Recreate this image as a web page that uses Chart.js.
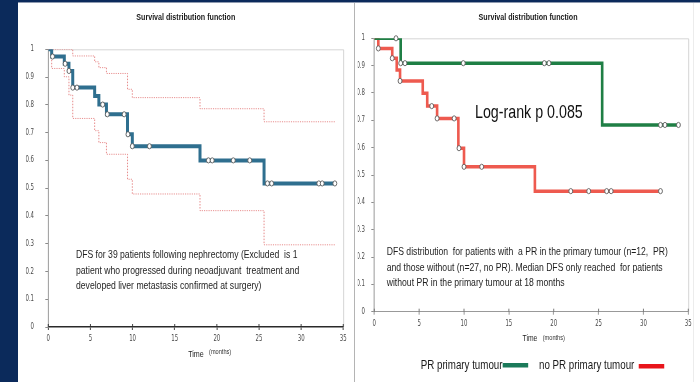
<!DOCTYPE html>
<html>
<head>
<meta charset="utf-8">
<title>Survival distribution function</title>
<script src="https://cdn.jsdelivr.net/npm/chart.js@4.4.1/dist/chart.umd.min.js"></script>
<style>
  html, body { margin: 0; padding: 0; width: 700px; height: 382px; overflow: hidden; background: #0b2a5b; }
  .sheet { position: absolute; left: 18px; top: 3px; width: 682px; height: 379px; background: #fff; }
  .rule-top { position: absolute; left: 18px; top: 2px; width: 682px; height: 1px; background: #8e9ab0; }
  .sep { position: absolute; left: 354px; top: 3px; width: 1px; height: 379px; background: #b4b4b4; }
  .edge { position: absolute; left: 693px; top: 3px; width: 1px; height: 379px; background: #ececec; }
  .panel { position: absolute; top: 3px; }
  canvas { display: block; }
</style>
</head>
<body>
<div class="sheet"></div>
<div class="rule-top"></div>
<div class="sep"></div>
<div class="edge"></div>
<div class="panel" style="left:18px"><canvas id="overall" width="447" height="379"></canvas></div>
<div class="panel" style="left:355px"><canvas id="byPR" width="460" height="379"></canvas></div>
<script>
// ---- axis ticks ----
const monthTicks = [0, 5, 10, 15, 20, 25, 30, 35];
const survTicks = [0, 0.1, 0.2, 0.3, 0.4, 0.5, 0.6, 0.7, 0.8, 0.9, 1];

// ---- all patients (n = 39): Kaplan-Meier steps, 95% band, censored times ----
const allTimes = [0, 0.4, 1.9, 2.45, 2.9, 5.5, 6.0, 6.9, 9.4, 9.97, 18.0, 25.6, 34.0];
const allSurv  = [1, 0.974, 0.948, 0.922, 0.862, 0.832, 0.801, 0.766, 0.694, 0.651, 0.600, 0.517, 0.517];
const allUpperTimes = [0, 2.9, 5.5, 6.0, 6.9, 9.4, 9.97, 18.0, 25.6, 34.0];
const allUpper      = [1, 0.976, 0.955, 0.934, 0.913, 0.856, 0.826, 0.786, 0.739, 0.739];
const allLowerTimes = [0, 0.4, 1.9, 2.45, 2.9, 5.5, 6.0, 6.9, 9.4, 9.97, 18.0, 25.6, 34.0];
const allLower      = [1, 0.931, 0.901, 0.835, 0.751, 0.707, 0.664, 0.622, 0.532, 0.479, 0.419, 0.296, 0.296];
const allCensored = [0.5, 2.0, 2.45, 2.9, 3.4, 6.45, 7.0, 9.0, 9.45, 9.97, 12.0, 19.0, 19.45, 21.95, 23.9, 26.0, 26.5, 32.1, 32.5, 34.0];

// ---- PR in the primary tumour (n = 12) ----
const prTimes = [0, 2.94, 25.4, 33.9];
const prSurv  = [1, 0.909, 0.683, 0.683];
const prCensored = [2.42, 2.94, 3.42, 9.92, 18.95, 19.47, 31.9, 32.4, 33.9];

// ---- no PR in the primary tumour (n = 27) ----
const noPrTimes = [0, 0.45, 2.0, 2.5, 2.87, 5.4, 5.9, 7.0, 9.37, 10.0, 17.9, 31.9];
const noPrSurv  = [1, 0.963, 0.927, 0.884, 0.844, 0.799, 0.752, 0.707, 0.598, 0.530, 0.441, 0.441];
const noPrCensored = [0.45, 2.0, 2.87, 6.4, 7.0, 8.9, 9.44, 10.0, 11.97, 21.9, 23.9, 25.9, 26.4, 31.9];

// ---- captions ----
const chartTitle = 'Survival distribution function';
const overallCaption = [
  'DFS for 39 patients following nephrectomy (Excluded  is 1',
  'patient who progressed during neoadjuvant  treatment and',
  'developed liver metastasis confirmed at surgery)'
];
const prCaption = [
  'DFS distribution  for patients with  a PR in the primary tumour (n=12,  PR)',
  'and those without (n=27, no PR). Median DFS only reached  for patients',
  'without PR in the primary tumour at 18 months'
];
const logRankText = 'Log-rank p 0.085';
const legendLabels = ['PR primary tumour', 'no PR primary tumour'];

const FONT = "'Liberation Sans', Arial, sans-serif";
const TICK_FONT = "'Liberation Sans Narrow', 'Arial Narrow', 'DejaVu Sans Condensed', 'Liberation Sans', sans-serif";
const SQUEEZE = 0.75;   // the slide's horizontal compression

function stepSeries(times, values) {
  return times.map((t, i) => ({ x: t, y: values[i] }));
}
// survival level of a step curve at time t (value right after any drop at t)
function survivalAt(times, values, t) {
  let s = values[0];
  for (let i = 0; i < times.length; i++) if (times[i] <= t + 1e-9) s = values[i];
  return s;
}
function censorMarks(times, values, cens) {
  return cens.map(t => ({ x: t, y: survivalAt(times, values, t) }));
}

function markDataset(data) {
  return { data, showLine: false, clip: false, pointRadius: 2.6, pointBorderWidth: 1,
           pointBackgroundColor: '#ffffff', pointBorderColor: '#5a5a5a' };
}
function stepDataset(data, color, width, dash) {
  return { data, stepped: 'before', borderColor: color, borderWidth: width, pointRadius: 0,
           borderDash: dash || [], borderJoinStyle: 'miter', fill: false };
}

const panelDecor = {
  id: 'panelDecor',
  beforeDatasetsDraw(chart, _args, o) {
    const { ctx, chartArea: a } = chart;
    ctx.save();
    ctx.strokeStyle = '#cfcfcf';
    ctx.lineWidth = 1;
    ctx.beginPath();
    ctx.moveTo(a.left, a.top + 0.5);
    ctx.lineTo(a.right + 0.5, a.top + 0.5);
    ctx.lineTo(a.right + 0.5, a.bottom);
    ctx.stroke();
    // tick marks crossing the time axis
    const xs = chart.scales.x;
    ctx.strokeStyle = o.tickColor;
    ctx.beginPath();
    xs.ticks.forEach(t => {
      const px = xs.getPixelForValue(t.value);
      ctx.moveTo(px, a.bottom - 3);
      ctx.lineTo(px, a.bottom);
    });
    ctx.stroke();
    ctx.restore();
  },
  afterDraw(chart, _args, o) {
    const ctx = chart.ctx;
    ctx.save();
    (o.texts || []).forEach(b => {
      ctx.font = b.font;
      ctx.fillStyle = b.color || '#222';
      ctx.textAlign = b.align || 'left';
      ctx.textBaseline = b.baseline || 'alphabetic';
      b.lines.forEach((ln, i) => ctx.fillText(ln, b.x, b.y + i * (b.lh || 0)));
    });
    (o.swatches || []).forEach(s => {
      ctx.fillStyle = s.color;
      ctx.fillRect(s.x, s.y, s.w, s.h);
    });
    ctx.restore();
  }
};

function buildScales(c) {
  return {
    x: {
      type: 'linear', min: 0, max: 35,
      afterBuildTicks: s => { s.ticks = monthTicks.map(v => ({ value: v })); },
      afterFit: s => { s.height = 25; },
      grid: { drawOnChartArea: false, tickLength: 3, color: c.xAxisColor },
      border: { color: c.xAxisColor, width: c.xAxisWidth },
      ticks: { padding: 4, color: '#4a4a4a', font: { family: TICK_FONT, size: 8 }, maxRotation: 0, autoSkip: false }
    },
    y: {
      type: 'linear', min: 0, max: 1,
      afterBuildTicks: s => { s.ticks = survTicks.map(v => ({ value: v })); },
      afterFit: s => { s.width = c.yWidth; },
      grid: { drawOnChartArea: false, tickLength: 4, color: '#7a7a7a' },
      border: { color: '#8a8a8a', width: 1 },
      ticks: { padding: c.yPad, color: '#4a4a4a', font: { family: TICK_FONT, size: 8 }, autoSkip: false,
               callback: v => String(Math.round(v * 10) / 10) }
    }
  };
}

// redraw a chart into a horizontally compressed canvas
function squeeze(chart, sx) {
  const c = chart.canvas;
  const w = Math.round(chart.width * sx);
  c.width = w;
  c.style.width = w + 'px';
  c.style.height = chart.height + 'px';
  chart.ctx.setTransform(sx, 0, 0, 1, 0, 0);
  chart.draw();
}

const common = {
  responsive: false, animation: false, events: [],
  plugins: { legend: { display: false }, tooltip: { enabled: false }, title: { display: false } }
};

// ---- left panel: all patients ----
const overallChart = new Chart(document.getElementById('overall'), {
  type: 'line',
  data: {
    datasets: [
      markDataset(censorMarks(allTimes, allSurv, allCensored)),
      stepDataset(stepSeries(allTimes, allSurv), '#2f6f8f', 4),
      stepDataset(stepSeries(allUpperTimes, allUpper), 'rgba(222,100,100,0.85)', 1, [1.5, 1.5]),
      stepDataset(stepSeries(allLowerTimes, allLower), 'rgba(222,100,100,0.85)', 1, [1.5, 1.5])
    ]
  },
  options: {
    ...common,
    layout: { padding: { left: 10.4, right: 13.3, top: 46.3, bottom: 30 } },
    scales: buildScales({ yWidth: 30, yPad: 15, xAxisColor: '#2a2a2a', xAxisWidth: 1.5 }),
    plugins: {
      ...common.plugins,
      panelDecor: {
        tickColor: '#2a2a2a',
        texts: [
          { lines: [chartTitle], x: 223.7, y: 14.3, font: `bold 9.5px ${FONT}`, align: 'center', baseline: 'middle', color: '#1a1a1a' },
          { lines: overallCaption, x: 77.3, y: 255.3, lh: 15.5, font: `11.5px ${FONT}`, color: '#1e1e1e' },
          { lines: ['Time'], x: 237.3, y: 351, font: `9.5px ${FONT}`, align: 'center', baseline: 'middle', color: '#222' },
          { lines: ['(months)'], x: 254.7, y: 348.5, font: `7.5px ${FONT}`, baseline: 'middle', color: '#333' }
        ]
      }
    }
  },
  plugins: [panelDecor]
});

// ---- right panel: by PR status ----
const prChart = new Chart(document.getElementById('byPR'), {
  type: 'line',
  data: {
    datasets: [
      markDataset(censorMarks(prTimes, prSurv, prCensored)),
      markDataset(censorMarks(noPrTimes, noPrSurv, noPrCensored)),
      stepDataset(stepSeries(prTimes, prSurv), '#1f7f45', 3.5),
      stepDataset(stepSeries(noPrTimes, noPrSurv), '#ee5a4f', 3.5)
    ]
  },
  options: {
    ...common,
    layout: { padding: { left: 3.73, right: 15.6, top: 35.3, bottom: 45.3 } },
    scales: buildScales({ yWidth: 22, yPad: 8.4, xAxisColor: '#8a8a8a', xAxisWidth: 1 }),
    plugins: {
      ...common.plugins,
      panelDecor: {
        tickColor: '#6a6a6a',
        texts: [
          { lines: [chartTitle], x: 230.7, y: 14.3, font: `bold 9.5px ${FONT}`, align: 'center', baseline: 'middle', color: '#1a1a1a' },
          { lines: [logRankText], x: 160, y: 115.3, font: `19px ${FONT}`, color: '#111' },
          { lines: prCaption, x: 42.3, y: 252, lh: 15.5, font: `11.5px ${FONT}`, color: '#1e1e1e' },
          { lines: ['Time'], x: 233.3, y: 335.7, font: `9px ${FONT}`, align: 'center', baseline: 'middle', color: '#222' },
          { lines: ['(months)'], x: 250.3, y: 335, font: `7.5px ${FONT}`, baseline: 'middle', color: '#333' },
          { lines: [legendLabels[0]], x: 87.6, y: 366.3, font: `13px ${FONT}`, color: '#1a1a1a' },
          { lines: [legendLabels[1]], x: 245.3, y: 366.3, font: `13px ${FONT}`, color: '#1a1a1a' }
        ],
        swatches: [
          { x: 196.9, y: 360, w: 34, h: 4.5, color: '#1b7a5a' },
          { x: 378.3, y: 361, w: 34, h: 4.5, color: '#e8151b' }
        ]
      }
    }
  },
  plugins: [panelDecor]
});

squeeze(overallChart, SQUEEZE);
squeeze(prChart, SQUEEZE);
</script>
</body>
</html>
